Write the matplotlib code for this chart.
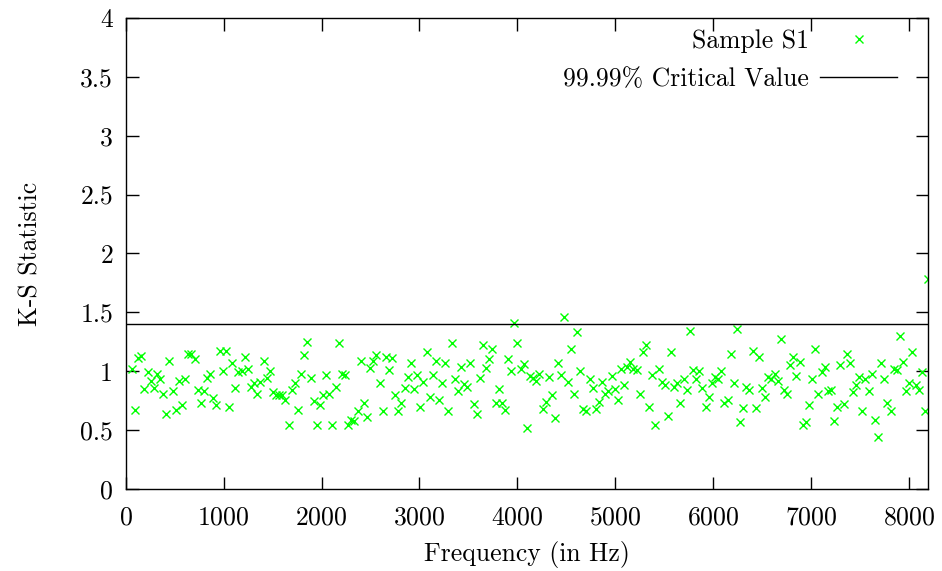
import numpy as np
import matplotlib
matplotlib.use("Agg")
import matplotlib.pyplot as plt

plt.rcParams['font.family'] = ['cmr10', 'DejaVu Serif']
plt.rcParams['mathtext.fontset'] = 'cm'
plt.rcParams['axes.formatter.use_mathtext'] = True

# K-S statistic per frequency bin
ks_s1 = [
    1.02, 0.67, 1.11, 1.13, 0.85, 0.99, 0.92, 0.86, 0.98, 0.93,
    0.81, 0.64, 1.09, 0.83, 0.67, 0.92, 0.71, 0.93, 1.15, 1.15,
    1.10, 0.84, 0.73, 0.83, 0.94, 0.98, 0.77, 0.71, 1.17, 1.00,
    1.17,
    0.70, 1.07, 0.86, 0.99, 1.00, 1.12, 1.02, 0.87, 0.90, 0.81,
    0.91, 1.09, 0.94, 1.00, 0.82, 0.80, 0.80, 0.80, 0.76, 0.54,
    0.84, 0.90, 0.67, 0.98, 1.14, 1.25, 0.94, 0.75, 0.54, 0.71,
    0.80, 0.97, 0.81, 0.54, 0.87, 1.24, 0.98, 0.97, 0.54, 0.59,
    0.58, 0.66, 1.09, 0.73, 0.61, 1.03, 1.09, 1.14, 0.90, 0.66,
    1.12, 1.01, 1.11, 0.80, 0.66, 0.73, 0.86, 0.95, 1.07, 0.85,
    0.97, 0.70, 0.91, 1.16, 0.78,
    0.97, 1.09, 0.76, 0.90, 1.07, 0.66, 1.24, 0.93, 0.83, 1.04,
    0.89, 0.87, 1.07, 0.72, 0.64, 0.94, 1.22, 1.03, 1.10, 1.19,
    0.73, 0.85, 0.73, 0.67, 1.10, 1.00, 1.41, 1.24, 1.02, 1.06,
    0.52, 0.96, 0.94,
    0.92, 0.98, 0.68, 0.74, 0.95, 0.80, 0.60, 1.07, 0.97, 1.46,
    0.91, 1.19, 0.81, 1.33, 1.00, 0.68, 0.66, 0.93, 0.86, 0.68,
    0.74, 0.91, 0.81, 0.83, 0.96, 0.85, 0.76, 1.02, 0.88, 1.04,
    1.08,
    1.02, 1.01, 0.81, 1.16, 1.22, 0.70, 0.97, 0.54, 1.02, 0.91,
    0.88, 0.62, 1.16, 0.87, 0.90, 0.73, 0.93, 0.84, 1.34, 1.01,
    0.93, 1.00, 0.86, 0.70, 0.78, 0.90, 0.95, 0.93, 1.00, 0.73,
    0.76, 1.15, 0.90,
    1.36, 0.57, 0.69, 0.87, 0.84, 1.17, 0.69, 1.12, 0.86, 0.78,
    0.95, 0.93, 0.98, 0.92, 1.27, 0.84, 0.81, 1.05, 1.12, 0.96,
    1.08, 0.54, 0.57, 0.71, 0.93, 1.19, 0.81, 0.99, 1.04, 0.83,
    0.84, 0.58,
    0.70, 1.05, 0.72, 1.15, 1.07, 0.82, 0.88, 0.95, 0.66, 0.93,
    0.83, 0.98, 0.59, 0.44, 1.07, 0.93, 0.73, 0.66, 1.02, 1.01,
    1.30, 1.08, 0.83, 0.90, 1.16, 0.88, 0.84, 0.99, 0.66, 1.78,
]
bin_width = 32
freqs = bin_width * np.arange(257 - len(ks_s1), 257)
critical = 1.40

fig = plt.figure(figsize=(9.42, 5.71), dpi=100)
ax = fig.add_axes([0.1333, 0.1436, 0.852, 0.8249])

ax.plot(freqs, ks_s1, linestyle='none', marker='x', color='#00ff00',
        markersize=6, markeredgewidth=1.0, label='Sample S1')
ax.axhline(critical, color='black', linewidth=1.0, label='99.99% Critical Value')

ax.set_xlim(0, 8192)
ax.set_ylim(0, 4)
ax.set_xticks(range(0, 8001, 1000))
ax.set_yticks([0, 0.5, 1, 1.5, 2, 2.5, 3, 3.5, 4])
ax.set_yticklabels(['0', '0.5', '1', '1.5', '2', '2.5', '3', '3.5', '4'])
ax.tick_params(direction='in', length=9, width=1, top=True, right=True,
               labelsize=18.5)
ax.tick_params(axis='x', pad=12)
ax.tick_params(axis='y', pad=9)
for s in ax.spines.values():
    s.set_linewidth(1.0)

ax.set_xlabel('Frequency (in Hz)', fontsize=18.5, labelpad=8)
ax.set_ylabel('K-S Statistic', fontsize=18.5, labelpad=27)

ax.legend(loc='upper right', bbox_to_anchor=(0.976, 1.0), frameon=False,
          markerfirst=False, fontsize=18.5, handlelength=3.0,
          borderaxespad=0.1, labelspacing=0.55, handletextpad=0.45,
          borderpad=0.35)

fig.savefig('out.png', dpi=100)
